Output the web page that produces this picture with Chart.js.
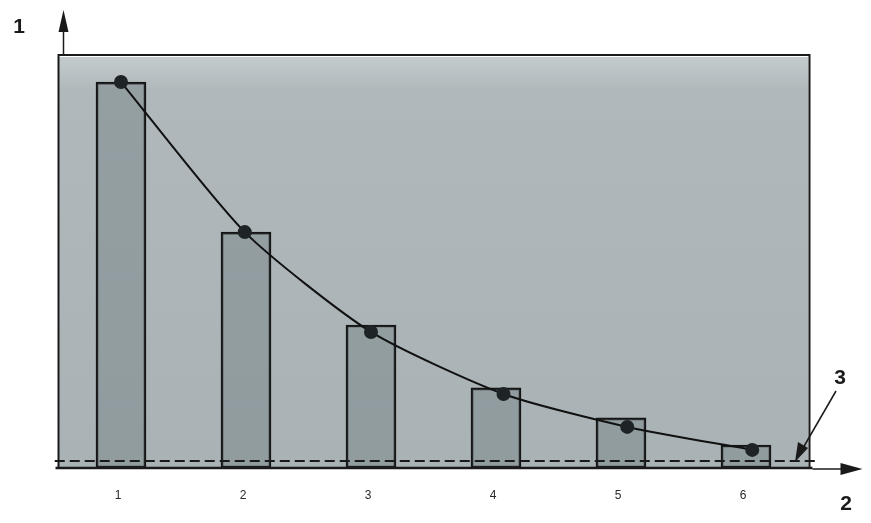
<!DOCTYPE html>
<html>
<head>
<meta charset="utf-8">
<script src="https://cdn.jsdelivr.net/npm/chart.js@4.4.1/dist/chart.umd.min.js"></script>
<style>
    html, body { margin: 0; padding: 0; background: #ffffff; }
    #wrap { width: 871px; height: 523px; }
</style>
</head>
<body>
<div id="wrap"><canvas id="chart"></canvas></div>
<script>
// Valores (unidades relativas, sin escala en el original)
const categories = ['1', '2', '3', '4', '5', '6'];
const barX = [1, 2, 3, 4, 5, 6];
const barValues = [9.39, 5.74, 3.48, 1.95, 1.22, 0.56];
// puntos de la curva: posicion x (ligeramente corrida a la derecha) y valor
const curveX = [1.0, 1.99, 3.0, 4.06, 5.05, 6.05];
const curveY = [9.39, 5.74, 3.31, 1.80, 1.00, 0.44];
// linea discontinua del nivel 3
const levelX = [0.47, 6.55];
const levelY = [0.17, 0.17];
const axisLabels = { y: '1', x: '2', level: '3' };

const barData = barX.map((x, i) => ({ x: x, y: barValues[i] }));
const curveData = curveX.map((x, i) => ({ x: x, y: curveY[i] }));
const levelData = levelX.map((x, i) => ({ x: x, y: levelY[i] }));

// Fondo gris del area del grafico
const backgroundPlugin = {
    id: 'plotBackground',
    beforeDraw(chart) {
        const { ctx, chartArea: a } = chart;
        ctx.save();
        const g = ctx.createLinearGradient(0, a.top, 0, a.bottom);
        g.addColorStop(0, '#c4cbcd');
        g.addColorStop(0.08, '#b0b8bb');
        g.addColorStop(1, '#a9b2b5');
        ctx.fillStyle = g;
        ctx.fillRect(a.left, a.top, a.right - a.left, a.bottom - a.top);
        ctx.restore();
    }
};

// Ejes con flechas, marco y etiquetas 1, 2, 3
const decorPlugin = {
    id: 'decor',
    afterDraw(chart) {
        const { ctx, chartArea: a } = chart;
        const xs = chart.scales.x;
        ctx.save();
        ctx.strokeStyle = '#1a1a1a';
        ctx.fillStyle = '#1a1a1a';

        // marco
        ctx.lineWidth = 2;
        ctx.beginPath();
        ctx.moveTo(a.left, a.bottom);
        ctx.lineTo(a.left, a.top - 2);
        ctx.lineTo(a.right + 1, a.top - 2);
        ctx.lineTo(a.right + 1, a.bottom);
        ctx.stroke();

        // eje x
        ctx.lineWidth = 2.5;
        ctx.beginPath();
        ctx.moveTo(a.left - 3, a.bottom);
        ctx.lineTo(a.right + 4, a.bottom);
        ctx.stroke();
        ctx.lineWidth = 1.5;
        ctx.beginPath();
        ctx.moveTo(a.right + 4, a.bottom + 1);
        ctx.lineTo(a.right + 36, a.bottom + 1);
        ctx.stroke();
        ctx.beginPath();
        ctx.moveTo(a.right + 54, a.bottom + 1);
        ctx.lineTo(a.right + 32, a.bottom - 5);
        ctx.lineTo(a.right + 32, a.bottom + 7);
        ctx.closePath();
        ctx.fill();

        // eje y
        const yx = a.left + 5;
        ctx.lineWidth = 1.5;
        ctx.beginPath();
        ctx.moveTo(yx, a.top - 2);
        ctx.lineTo(yx, a.top - 30);
        ctx.stroke();
        ctx.beginPath();
        ctx.moveTo(yx, a.top - 47);
        ctx.lineTo(yx - 5, a.top - 25);
        ctx.lineTo(yx + 5, a.top - 25);
        ctx.closePath();
        ctx.fill();

        // flecha del nivel 3
        ctx.lineWidth = 1.5;
        ctx.beginPath();
        ctx.moveTo(836, 391);
        ctx.lineTo(803, 448);
        ctx.stroke();
        ctx.beginPath();
        ctx.moveTo(795, 462);
        ctx.lineTo(798, 442);
        ctx.lineTo(808, 448);
        ctx.closePath();
        ctx.fill();

        // etiquetas de las categorias
        ctx.font = '12px "Liberation Sans", Arial, sans-serif';
        ctx.fillStyle = '#2a2a2a';
        ctx.textAlign = 'center';
        ctx.textBaseline = 'middle';
        categories.forEach((c, i) => {
            ctx.fillText(c, xs.getPixelForValue(barX[i]) - 3, 496);
        });

        // etiquetas de ejes
        ctx.font = 'bold 21px "Liberation Sans", Arial, sans-serif';
        ctx.fillStyle = '#1a1a1a';
        ctx.fillText(axisLabels.y, 19, 27);
        ctx.fillText(axisLabels.x, 846, 504);
        ctx.fillText(axisLabels.level, 840, 378);
        ctx.restore();
    }
};

const ctx = document.getElementById('chart').getContext('2d');
new Chart(ctx, {
    type: 'bar',
    data: {
        datasets: [
            {
                type: 'line',
                data: levelData,
                borderColor: '#1a1a1a',
                borderWidth: 2,
                borderDash: [10, 5],
                pointRadius: 0,
                fill: false,
                clip: false,
                order: 0
            },
            {
                type: 'line',
                data: curveData,
                borderColor: '#111111',
                borderWidth: 2,
                tension: 0.22,
                pointRadius: 6,
                pointBackgroundColor: '#1e2426',
                pointBorderColor: '#1e2426',
                fill: false,
                order: 1
            },
            {
                type: 'bar',
                data: barData,
                backgroundColor: 'rgba(115, 128, 133, 0.45)',
                borderColor: '#151515',
                borderWidth: 2,
                borderSkipped: false,
                grouped: false,
                barThickness: 50,
                order: 2
            }
        ]
    },
    options: {
        responsive: true,
        maintainAspectRatio: false,
        animation: false,
        layout: { padding: { left: 58.5, right: 62.5, top: 57, bottom: 55 } },
        plugins: { legend: { display: false }, tooltip: { enabled: false } },
        scales: {
            x: { type: 'linear', display: false, offset: false, min: 0.5, max: 6.5 },
            y: { display: false, min: 0, max: 10 }
        }
    },
    plugins: [backgroundPlugin, decorPlugin]
});
</script>
</body>
</html>
